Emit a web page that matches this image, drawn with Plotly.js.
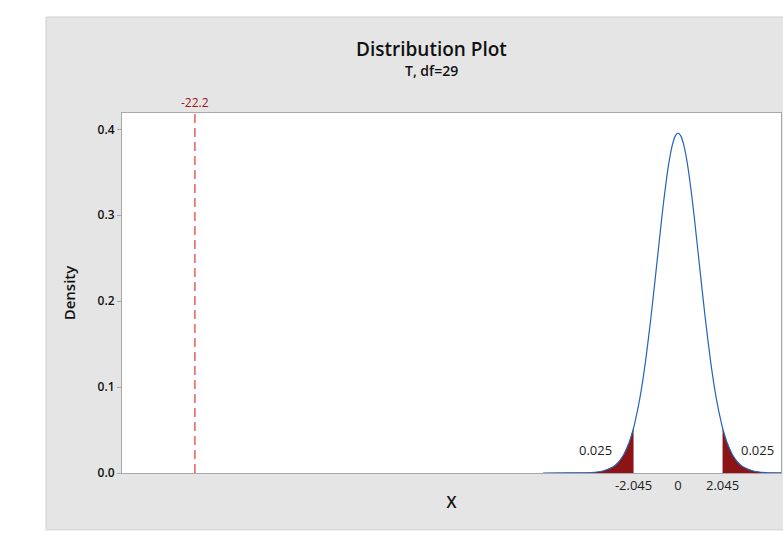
<!DOCTYPE html>
<html>
<head>
<meta charset="utf-8">
<script src="https://cdn.plot.ly/plotly-3.0.1.min.js"></script>
<style>html,body{margin:0;padding:0;background:#fff;}#chart{width:783px;height:540px;}</style>
</head>
<body>
<div id="chart"></div>
<script>
// t-distribution (df = 29) density
const tValues = [-6.2, -5, -4.5, -4, -3.5, -3, -2.75, -2.5, -2.25, -2.045, -2, -1.75, -1.5, -1.25, -1, -0.75, -0.625, -0.5, -0.375, -0.25, -0.125, 0,
                 0.125, 0.25, 0.375, 0.5, 0.625, 0.75, 1, 1.25, 1.5, 1.75, 2, 2.045, 2.25, 2.5, 2.75, 3, 3.5, 4, 4.5, 5, 6.2];
const density = [0, 0.000035, 0.00014, 0.00054, 0.0020, 0.0069, 0.0122, 0.0212, 0.0354, 0.0524, 0.0569, 0.0878, 0.1290, 0.1801, 0.2379, 0.2966, 0.3237, 0.3478, 0.3679, 0.3830, 0.3924, 0.3956,
                 0.3924, 0.3830, 0.3679, 0.3478, 0.3237, 0.2966, 0.2379, 0.1801, 0.1290, 0.0878, 0.0569, 0.0524, 0.0354, 0.0212, 0.0122, 0.0069, 0.0020, 0.00054, 0.00014, 0.000035, 0];
const criticalValue = 2.045;
const tailArea = 0.025;
const testStatistic = -22.2;
const xTickVals = [-2.045, 0, 2.045];
const xTickText = ["-2.045", "0", "2.045"];
const yTickVals = [0.0, 0.1, 0.2, 0.3, 0.4];
const yTickText = ["0.0", "0.1", "0.2", "0.3", "0.4"];

const leftX = [], leftY = [], rightX = [], rightY = [];
tValues.forEach((t, i) => {
  if (t <= -criticalValue) { leftX.push(t); leftY.push(density[i]); }
  if (t >= criticalValue) { rightX.push(t); rightY.push(density[i]); }
});

const fillColor = 'rgb(140,20,20)';
const traces = [
  {x: leftX, y: leftY, type: 'scatter', mode: 'lines', fill: 'tozeroy', fillcolor: fillColor,
   line: {color: fillColor, width: 0}, hoverinfo: 'skip', showlegend: false},
  {x: rightX, y: rightY, type: 'scatter', mode: 'lines', fill: 'tozeroy', fillcolor: fillColor,
   line: {color: fillColor, width: 0}, hoverinfo: 'skip', showlegend: false},
  {x: tValues, y: density, type: 'scatter', mode: 'lines',
   line: {color: 'rgb(35,100,185)', width: 1.2, shape: 'spline', smoothing: 0.5}, showlegend: false}
];

const font = 'Open Sans, Noto Sans, sans-serif';
const layout = {
  width: 783, height: 540,
  margin: {l: 122, r: 2, t: 113, b: 67},
  paper_bgcolor: '#ffffff',
  plot_bgcolor: 'rgba(0,0,0,0)',
  font: {family: font, color: '#222', size: 12},
  showlegend: false,
  xaxis: {
    range: [-25.55, 4.73], tickvals: xTickVals, ticktext: xTickText,
    showgrid: false, zeroline: false, showline: true, mirror: true,
    linecolor: '#a8a8a8', linewidth: 1, ticks: '', ticklen: 0,
    tickfont: {family: font, size: 13, color: '#222'},
    title: {text: 'X', font: {family: font, size: 16, color: '#111', weight: 600}, standoff: 4}
  },
  yaxis: {
    range: [0, 0.419], tickvals: yTickVals, ticktext: yTickText,
    showgrid: false, zeroline: false, showline: true, mirror: true,
    linecolor: '#a8a8a8', linewidth: 1, ticks: 'outside', ticklen: 4, tickcolor: '#a8a8a8',
    tickfont: {family: font, size: 12, color: '#111', weight: 600},
    title: {text: 'Density', font: {family: font, size: 15, color: '#111', weight: 600}, standoff: 18}
  },
  shapes: [
    {type: 'rect', xref: 'paper', yref: 'paper', x0: -0.1153, x1: 1.01, y0: -0.158, y1: 1.2667,
     fillcolor: '#e5e5e5', line: {color: '#d0d0d0', width: 1}, layer: 'below'},
    {type: 'rect', xref: 'paper', yref: 'paper', x0: 0, x1: 1, y0: 0, y1: 1,
     fillcolor: '#ffffff', line: {width: 0}, layer: 'below'},
    {type: 'line', xref: 'x', yref: 'paper', x0: testStatistic, x1: testStatistic, y0: 0, y1: 1,
     line: {color: 'rgb(228,70,72)', width: 1.3, dash: '9px,5px'}}
  ],
  annotations: [
    {text: 'Distribution Plot', xref: 'paper', yref: 'paper', x: 0.469, y: 1.178, yanchor: 'middle',
     showarrow: false, font: {family: font, size: 19, color: '#111', weight: 600}},
    {text: 'T, df=29', xref: 'paper', yref: 'paper', x: 0.469, y: 1.117, yanchor: 'middle',
     showarrow: false, font: {family: font, size: 14, color: '#111', weight: 600}},
    {text: String(testStatistic), xref: 'x', yref: 'paper', x: testStatistic, y: 1.028, yanchor: 'middle',
     showarrow: false, font: {family: font, size: 12, color: 'rgb(160,20,30)'}},
    {text: String(tailArea), xref: 'x', yref: 'y', x: -3.81, y: 0.0265,
     showarrow: false, font: {family: font, size: 13, color: '#222'}},
    {text: String(tailArea), xref: 'x', yref: 'y', x: 3.63, y: 0.0265,
     showarrow: false, font: {family: font, size: 13, color: '#222'}}
  ]
};

Plotly.newPlot('chart', traces, layout, {displayModeBar: false, staticPlot: true});
</script>
</body>
</html>
